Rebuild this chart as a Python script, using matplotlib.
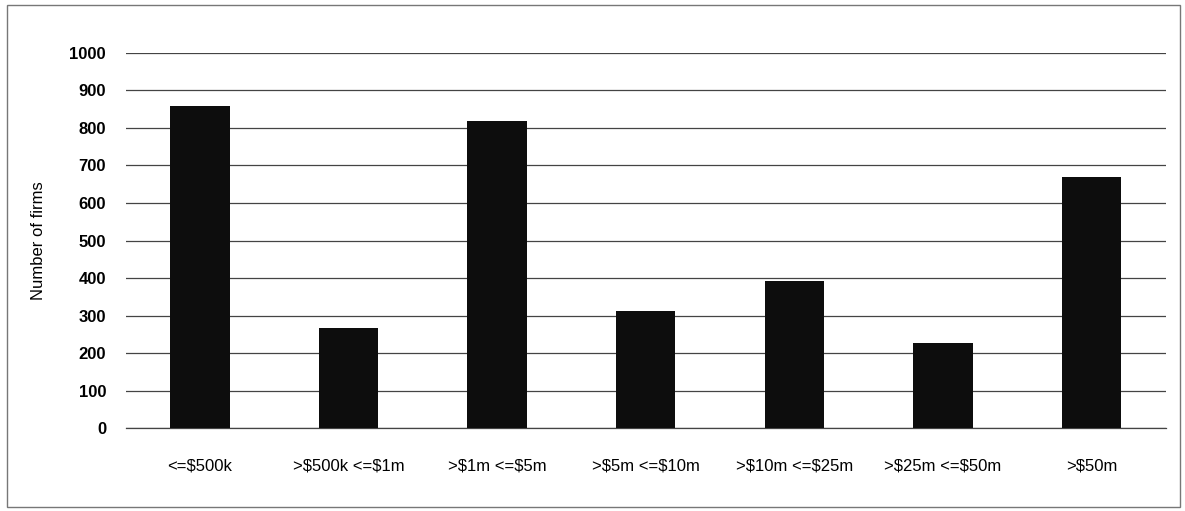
import matplotlib.pyplot as plt
from matplotlib.patches import Rectangle

categories = ['<=$500k', '>$500k <=$1m', '>$1m <=$5m', '>$5m <=$10m',
              '>$10m <=$25m', '>$25m <=$50m', '>$50m']
firms = [857, 268, 818, 313, 392, 228, 668]
yticks = [0, 100, 200, 300, 400, 500, 600, 700, 800, 900, 1000]

plt.rcParams['font.family'] = ['Liberation Sans', 'DejaVu Sans']
plt.rcParams['text.parse_math'] = False

fig = plt.figure(figsize=(11.85, 5.11), dpi=100)
ax = fig.add_axes([125.5 / 1185, 1 - 428.3 / 511, (1166 - 125.5) / 1185, (428.3 - 52.7) / 511])

x = range(len(categories))
ax.bar(x, firms, width=0.4, color='#0d0d0d', zorder=3)

ax.set_xlim(-0.5, len(categories) - 0.5)
ax.set_ylim(0, 1000)
ax.set_yticks(yticks)
ax.set_xticks(list(x))
ax.set_xticklabels(categories, fontsize=12)
ax.tick_params(axis='both', length=0, labelsize=12)
ax.tick_params(axis='x', pad=22)
ax.tick_params(axis='y', pad=14)
for lbl in ax.get_yticklabels():
    lbl.set_fontweight('bold')
ax.grid(axis='y', color='#444444', linewidth=0.9, zorder=0)
ax.axhline(0, color='#444444', linewidth=0.9, zorder=1, clip_on=False)
ax.set_axisbelow(True)
for s in ax.spines.values():
    s.set_visible(False)
ax.set_ylabel('Number of firms', fontsize=12)
ax.yaxis.set_label_coords(-0.0764, 0.5)

# thin frame round the whole chart
fig.patches.append(Rectangle((7 / 1185, 1 - 507 / 511), 1173 / 1185, 502 / 511,
                             transform=fig.transFigure, fill=False,
                             edgecolor='#777777', linewidth=1))

fig.savefig('out.png', dpi=100)
